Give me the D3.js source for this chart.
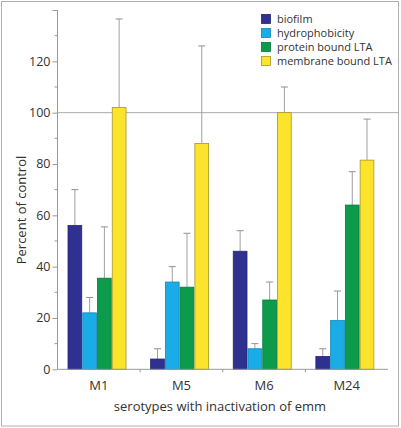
<!DOCTYPE html>
<html><head><meta charset="utf-8">
<script src="https://cdn.jsdelivr.net/npm/d3@7"></script>
<style>body{margin:0;background:#fff}svg{display:block}text{font-family:"Open Sans",Lato,sans-serif;fill:#333}</style>
</head><body><svg id="c" width="401" height="428"></svg>
<script>
const categories = ["M1","M5","M6","M24"];
const series = ["biofilm","hydrophobicity","protein bound LTA","membrane bound LTA"];
const values = {
  "biofilm":            [56, 4, 46, 5],
  "hydrophobicity":     [22, 34, 8, 19],
  "protein bound LTA":  [35.5, 32, 27, 64],
  "membrane bound LTA": [102, 88, 100, 81.5]
};
const errorTops = {
  "biofilm":            [70, 8, 54, 8],
  "hydrophobicity":     [28, 40, 10, 30.5],
  "protein bound LTA":  [55.5, 53, 34, 77],
  "membrane bound LTA": [136.5, 126, 110, 97.5]
};
const yTicks = [0,20,40,60,80,100,120,140];
const yMinor = [10,30,50,70,90,110,130];
const colors = ["#2e3190","#19ace6","#0c9a4b","#fde42c"];
const strokes = ["#23256e","#1189b8","#087a3a","#a8952a"];

const svg = d3.select("#c");
svg.append("rect").attr("x",1.5).attr("y",1.5).attr("width",397).attr("height",424.5)
  .attr("fill","none").attr("stroke","#b0b0b0");

const y = d3.scaleLinear().domain([0,140]).range([369.3,10]);
const x0 = d3.scaleBand().domain(categories).range([57.5,388]);
const x1 = d3.scaleBand().domain(series).range([10,69]);
const color = d3.scaleOrdinal().domain(series).range(colors);
const stroke = d3.scaleOrdinal().domain(series).range(strokes);

// reference line at 100
svg.append("line").attr("x1",57.5).attr("x2",399).attr("y1",y(100)).attr("y2",y(100))
  .attr("stroke","#aaa").attr("stroke-width",1);

// bars
const groups = svg.append("g").selectAll("g").data(categories).join("g")
  .attr("transform",d=>`translate(${x0(d)},0)`);
groups.each(function(cat,ci){
  const g = d3.select(this);
  series.forEach(s=>{
    const v = values[s][ci], e = errorTops[s][ci];
    const cx = x1(s)+x1.bandwidth()/2;
    g.append("line").attr("x1",cx).attr("x2",cx).attr("y1",y(v)).attr("y2",y(e))
      .attr("stroke","#a0a0a0").attr("stroke-width",1);
    g.append("line").attr("x1",cx-3.5).attr("x2",cx+3.5).attr("y1",y(e)).attr("y2",y(e))
      .attr("stroke","#909090").attr("stroke-width",1);
    g.append("rect").attr("x",x1(s)+0.5).attr("y",y(v)).attr("width",x1.bandwidth()-1)
      .attr("height",y(0)-y(v)).attr("fill",color(s)).attr("stroke",stroke(s)).attr("stroke-width",0.8);
  });
});

// y axis
const yAxis = svg.append("g").attr("transform","translate(57.5,0)")
  .call(d3.axisLeft(y).tickValues(yTicks).tickSize(5).tickPadding(2)
    .tickFormat(d=>d===140?"":d));
yAxis.selectAll("text").style("font-size","12.5px").attr("fill","#333");
yAxis.append("g").selectAll("line").data(yMinor).join("line")
  .attr("x1",-3).attr("x2",0).attr("y1",d=>y(d)).attr("y2",d=>y(d));
yAxis.selectAll("line,path").attr("stroke","#999");
yAxis.select(".domain").attr("d",`M0,${y(140)}V${y(0)}`);

// x axis
const xAxis = svg.append("g").attr("transform",`translate(0,${y(0)})`)
  .call(d3.axisBottom(x0).tickSize(0).tickPadding(11));
xAxis.select(".domain").attr("stroke","#999").attr("d","M57.5,0H388");
xAxis.selectAll("text").style("font-size","13px").attr("fill","#333");
xAxis.append("g").selectAll("line").data(categories.slice(1)).join("line")
  .attr("x1",d=>x0(d)).attr("x2",d=>x0(d)).attr("y1",0).attr("y2",3).attr("stroke","#999");

// titles
svg.append("text").attr("transform","translate(26,210) rotate(-90)").attr("text-anchor","middle")
  .style("font-size","13px").text("Percent of control");
svg.append("text").attr("x",220).attr("y",411).attr("text-anchor","middle")
  .style("font-size","13px").text("serotypes with inactivation of emm");

// legend
const leg = svg.append("g").attr("transform","translate(261,0)");
series.forEach((s,i)=>{
  const cy = 19 + i*14;
  leg.append("rect").attr("x",0.5).attr("y",cy-4.5).attr("width",9).attr("height",9)
    .attr("fill",color(s)).attr("stroke",stroke(s)).attr("stroke-width",0.8);
  leg.append("text").attr("x",16).attr("y",cy+4).style("font-size","11px").text(s);
});
</script></body></html>
